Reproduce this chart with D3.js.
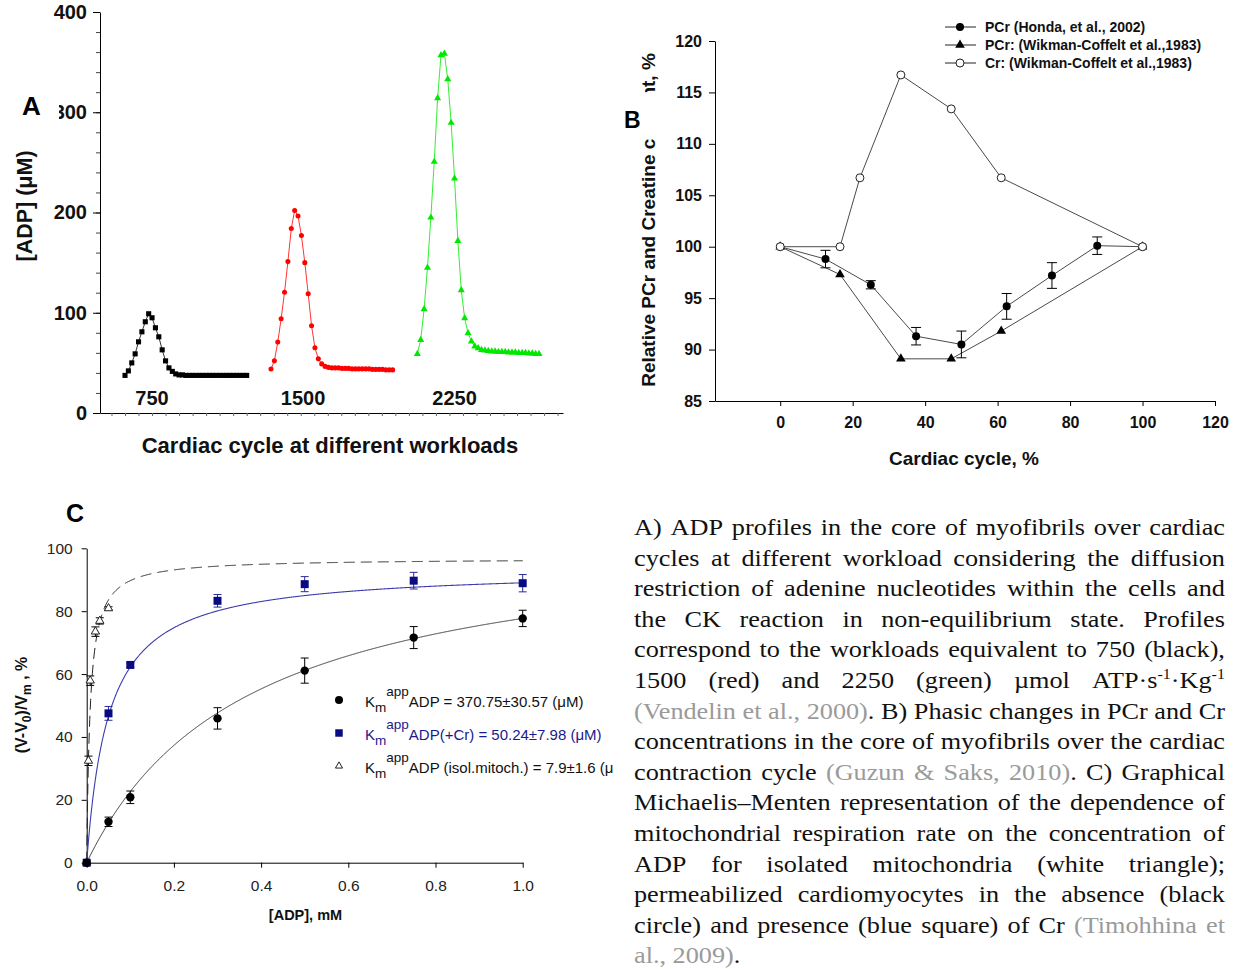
<!DOCTYPE html>
<html>
<head>
<meta charset="utf-8">
<script src="https://cdn.jsdelivr.net/npm/d3@7"></script>
<style>
  body { margin: 0; background: #fff; }
  text { font-family: "Liberation Sans", Arial, sans-serif; }
</style>
</head>
<body>
<svg id="fig" width="1237" height="969"></svg>
<script>
// ---------- panel A: ADP profiles (one sample every ~1/37 of a cycle)
const workloads = ['750', '1500', '2250'];
const adp750 = [37.5, 42, 50, 59, 71, 81, 91, 99, 95, 85, 76, 63, 52, 45, 41.5, 39, 38, 38, 37.5, 37.5,
  37.5, 37.5, 37.5, 37.5, 37.5, 37.5, 37.5, 37.5, 37.5, 37.5, 37.5, 37.5, 37.5, 37.5, 37.5, 37.5, 37.5];
const adp1500 = [43.8, 52, 70.7, 94, 120.5, 151, 184, 202, 196.5, 177, 150, 119, 87, 65, 54, 49, 46.5, 45.5, 45, 45,
  45, 44.5, 44.5, 44.5, 44, 44, 44, 44, 44, 44, 43.5, 43.5, 43.5, 43.5, 43, 43, 43];
const adp2250 = [59, 73, 103.6, 145, 195, 250.6, 314, 357, 358.5, 333, 289.5, 234, 171.6, 122.5, 94.6, 79.7, 71.4, 66.4, 64.7, 63,
  62.4, 62, 61.5, 61.5, 61, 61, 61, 60.5, 60.5, 60.5, 60, 60, 60, 59.5, 59.5, 59, 59];
const cycleStart = [0, 43.2, 86.5];      // where each cycle begins on the time axis
const cycleLabelAt = [8, 52.7, 97.5];
const adpTicks = [0, 100, 200, 300, 400];

// ---------- panel B: PCr / Cr over the cardiac cycle
const hondaX = [0, 12.5, 25, 37.5, 50, 62.5, 75, 87.5, 100];
const hondaY = [100, 98.8, 96.3, 91.3, 90.5, 94.2, 97.2, 100.1, 100];
const hondaErr = [0, 0.85, 0.4, 0.85, 1.3, 1.25, 1.25, 0.85, 0];
const wikPcrX = [0, 16.5, 33.3, 47.2, 61, 100];
const wikPcrY = [100, 97.3, 89.1, 89.1, 91.8, 100];
const wikCrX = [0, 16.5, 22, 33.3, 47.2, 61, 100];
const wikCrY = [100, 100, 106.7, 116.7, 113.4, 106.7, 100];
const legendB = ['PCr (Honda, et al., 2002)', 'PCr: (Wikman-Coffelt et al.,1983)', 'Cr: (Wikman-Coffelt et al.,1983)'];

// ---------- panel C: respiration rate vs [ADP]
const concNoCr = [0, 0.05, 0.1, 0.3, 0.5, 0.75, 1.0];
const rateNoCr = [0, 13, 20.8, 45.9, 61.1, 71.6, 77.7];
const errNoCr = [0, 1.5, 2, 3.4, 4, 3.5, 2.6];
const concCr = [0, 0.05, 0.1, 0.3, 0.5, 0.75, 1.0];
const rateCr = [0, 47.5, 62.9, 83.3, 88.6, 89.7, 88.9];
const errCr = [0, 2.2, 0.7, 2, 2.4, 2.65, 2.75];
const concMito = [0, 0.004, 0.008, 0.02, 0.03, 0.05];
const rateMito = [0, 32.4, 57.9, 73.5, 76.9, 80.9];
const errMito = [0, 1.5, 1.5, 1.5, 1, 0.5];
// Michaelis-Menten fits: Km from the legend (mM), Vmax
const kmNoCr = 0.37075, vmaxNoCr = 106.5;
const kmCr = 0.05024, vmaxCr = 93.5;
const kmMito = 0.0079, vmaxMito = 96.8;
const legendC = ['ADP = 370.75±30.57 (μM)', 'ADP(+Cr) = 50.24±7.98 (μM)', 'ADP (isol.mitoch.) = 7.9±1.6 (μM)'];

const caption = [
  'A) ADP profiles in the core of myofibrils over cardiac',
  'cycles at different workload considering the diffusion',
  'restriction of adenine nucleotides within the cells and',
  'the CK reaction in non-equilibrium state. Profiles',
  'correspond to the workloads equivalent to 750 (black),',
  '1500 (red) and 2250 (green) µmol ATP·s[-1]·Kg[-1]',
  '§(Vendelin et al., 2000)§. B) Phasic changes in PCr and Cr',
  'concentrations in the core of myofibrils over the cardiac',
  'contraction cycle §(Guzun & Saks, 2010)§. C) Graphical',
  'Michaelis–Menten representation of the dependence of',
  'mitochondrial respiration rate on the concentration of',
  'ADP for isolated mitochondria (white triangle);',
  'permeabilized cardiomyocytes in the absence (black',
  'circle) and presence (blue square) of Cr §(Timohhina et',
  'al., 2009)§.'
];

const svg = d3.select('#fig');

function styleAxis(g, size, weight, color) {
  g.selectAll('text').attr('font-size', size).attr('font-weight', weight).attr('fill', color)
    .attr('font-family', '"Liberation Sans", Arial, sans-serif');
  g.selectAll('line,path').attr('stroke', '#000');
}

// =================== Panel A
const xA = d3.scaleLinear().domain([-7.4, 129.6]).range([100, 563]);
const yA = d3.scaleLinear().domain([0, 400]).range([413, 12]);
const gA = svg.append('g');

gA.append('g').attr('transform', 'translate(100,0)')
  .call(d3.axisLeft(yA).tickValues(d3.range(0, 401, 20)).tickSize(4).tickSizeOuter(0).tickFormat(''))
  .call(g => g.select('.domain').remove())
  .selectAll('line').attr('stroke', '#444');
gA.append('g').attr('transform', 'translate(100,0)')
  .call(d3.axisLeft(yA).tickValues(adpTicks).tickSize(7).tickSizeOuter(0).tickPadding(6))
  .call(g => styleAxis(g, 20, 'bold', '#111'));
gA.append('g').attr('transform', `translate(0,${yA(0)})`)
  .call(d3.axisBottom(xA).tickValues(d3.range(-4, 129, 4)).tickSize(3).tickSizeOuter(0).tickFormat(''))
  .call(g => { g.selectAll('line').attr('stroke', '#666'); g.select('.domain').attr('stroke', '#000'); });

const aSeries = [
  { vals: adp750, color: '#000000', sym: d3.symbolSquare, size: 26 },
  { vals: adp1500, color: '#ff0000', sym: d3.symbolCircle, size: 20 },
  { vals: adp2250, color: '#00e800', sym: d3.symbolTriangle, size: 22 }
];
const lineA = d3.line().x(d => xA(d[0])).y(d => yA(d[1]));
aSeries.forEach((s, k) => {
  const pts = s.vals.map((v, i) => [cycleStart[k] + i, v]);
  gA.append('path').attr('d', lineA(pts)).attr('fill', 'none')
    .attr('stroke', s.color).attr('stroke-width', 1).attr('stroke-opacity', 0.8);
  gA.append('g').selectAll('path').data(pts).join('path')
    .attr('transform', d => `translate(${xA(d[0])},${yA(d[1])})`)
    .attr('d', d3.symbol(s.sym, s.size)).attr('fill', s.color);
  gA.append('text').attr('x', xA(cycleLabelAt[k])).attr('y', yA(0) - 8)
    .attr('text-anchor', 'middle').attr('font-size', 20).attr('font-weight', 'bold').attr('fill', '#111')
    .text(workloads[k]);
});

gA.append('text').attr('x', 330).attr('y', 453).attr('text-anchor', 'middle')
  .attr('font-size', 22).attr('font-weight', 'bold').attr('fill', '#111')
  .text('Cardiac cycle at different workloads');
gA.append('text').attr('transform', 'translate(32,206) rotate(-90)').attr('text-anchor', 'middle')
  .attr('font-size', 21.5).attr('font-weight', 'bold').attr('fill', '#111').text('[ADP] (μM)');
gA.append('rect').attr('x', 12).attr('y', 92).attr('width', 47).attr('height', 34).attr('fill', '#fff');
gA.append('text').attr('x', 22).attr('y', 115).attr('font-size', 26).attr('font-weight', 'bold').text('A');

// =================== Panel B
const xB = d3.scaleLinear().domain([-18, 120]).range([715, 1215]);
const yB = d3.scaleLinear().domain([85, 120]).range([401, 41]);
const gB = svg.append('g');

gB.append('g').attr('transform', 'translate(715,0)')
  .call(d3.axisLeft(yB).tickValues(d3.range(85, 121, 5)).tickSize(6).tickSizeOuter(0).tickPadding(7))
  .call(g => styleAxis(g, 16, 'bold', '#111'));
gB.append('g').attr('transform', 'translate(0,401)')
  .call(d3.axisBottom(xB).tickValues(d3.range(0, 121, 20)).tickSize(5).tickSizeOuter(0).tickPadding(11))
  .call(g => styleAxis(g, 16, 'bold', '#111'));

const lineB = d3.line().x(d => xB(d[0])).y(d => yB(d[1]));
const honda = hondaX.map((x, i) => [x, hondaY[i], hondaErr[i]]);
const wikPcr = wikPcrX.map((x, i) => [x, wikPcrY[i]]);
const wikCr = wikCrX.map((x, i) => [x, wikCrY[i]]);
[honda, wikPcr, wikCr].forEach(pts => {
  gB.append('path').attr('d', lineB(pts)).attr('fill', 'none').attr('stroke', '#4a4a4a').attr('stroke-width', 1);
});
const eb = gB.append('g').attr('stroke', '#000').attr('stroke-width', 1);
honda.filter(d => d[2] > 0).forEach(d => {
  const x = xB(d[0]), y0 = yB(d[1] - d[2]), y1 = yB(d[1] + d[2]);
  eb.append('line').attr('x1', x).attr('x2', x).attr('y1', y0).attr('y2', y1);
  eb.append('line').attr('x1', x - 5).attr('x2', x + 5).attr('y1', y0).attr('y2', y0);
  eb.append('line').attr('x1', x - 5).attr('x2', x + 5).attr('y1', y1).attr('y2', y1);
});
gB.append('g').selectAll('path').data(wikPcr).join('path')
  .attr('transform', d => `translate(${xB(d[0])},${yB(d[1])})`)
  .attr('d', d3.symbol(d3.symbolTriangle, 40)).attr('fill', '#000');
gB.append('g').selectAll('circle').data(honda).join('circle')
  .attr('cx', d => xB(d[0])).attr('cy', d => yB(d[1])).attr('r', 4).attr('fill', '#000');
gB.append('g').selectAll('circle').data(wikCr).join('circle')
  .attr('cx', d => xB(d[0])).attr('cy', d => yB(d[1])).attr('r', 4)
  .attr('fill', '#fff').attr('stroke', '#222').attr('stroke-width', 1);

// legend B
const legB = gB.append('g');
legendB.forEach((t, i) => {
  const y = 27 + i * 18;
  legB.append('line').attr('x1', 945).attr('x2', 976).attr('y1', y).attr('y2', y).attr('stroke', '#222');
  if (i === 0) legB.append('circle').attr('cx', 960).attr('cy', y).attr('r', 4).attr('fill', '#000');
  if (i === 1) legB.append('path').attr('transform', `translate(960,${y})`).attr('d', d3.symbol(d3.symbolTriangle, 40)).attr('fill', '#000');
  if (i === 2) legB.append('circle').attr('cx', 960).attr('cy', y).attr('r', 4).attr('fill', '#fff').attr('stroke', '#222');
  legB.append('text').attr('x', 985).attr('y', y + 4.5).attr('font-size', 14).attr('font-weight', 'bold')
    .attr('fill', '#111').text(t);
});

gB.append('text').attr('x', 964).attr('y', 465).attr('text-anchor', 'middle')
  .attr('font-size', 19).attr('font-weight', 'bold').attr('fill', '#111').text('Cardiac cycle, %');
const yLabB = gB.append('text').attr('transform', 'translate(655,220) rotate(-90)').attr('text-anchor', 'middle')
  .attr('font-size', 19).attr('font-weight', 'bold').attr('fill', '#111')
  .text('Relative PCr and Creatine content, %');
// the "B" box hides the middle of that label, from the "o" to partway into the second "n"
{
  const node = yLabB.node(), str = node.textContent, L = node.getComputedTextLength();
  const i0 = str.indexOf('content') + 1, i1 = str.indexOf('content') + 5;
  const p0 = node.getSubStringLength(0, i0);
  const p1 = node.getSubStringLength(0, i1) + 0.55 * node.getSubStringLength(i1, 1);
  const yTop = 220 + L / 2 - p1, yBot = 220 + L / 2 - p0;
  gB.append('rect').attr('x', 620).attr('y', yTop).attr('width', 40).attr('height', yBot - yTop).attr('fill', '#fff');
}
gB.append('text').attr('x', 624).attr('y', 128).attr('font-size', 23).attr('font-weight', 'bold').text('B');

// =================== Panel C
const xC = d3.scaleLinear().domain([0, 1]).range([86.7, 522.7]);
const yC = d3.scaleLinear().domain([0, 100]).range([862.7, 548.3]);
const gC = svg.append('g');

gC.append('g').attr('transform', 'translate(86.7,0)')
  .call(d3.axisLeft(yC).tickValues(d3.range(0, 101, 20)).tickSize(5).tickSizeOuter(0).tickPadding(9))
  .call(g => styleAxis(g, 15.5, 'normal', '#222'));
gC.append('g').attr('transform', 'translate(0,862.7)')
  .call(d3.axisBottom(xC).tickValues(d3.range(0, 1.01, 0.2)).tickFormat(d3.format('.1f'))
    .tickSize(5).tickSizeOuter(0).tickPadding(12))
  .call(g => styleAxis(g, 15.5, 'normal', '#222'));

const mm = (vmax, km) => c => vmax * c / (km + c);
const concGrid = d3.range(0, 1.0001, 0.001);
const lineC = d3.line().x(d => xC(d[0])).y(d => yC(d[1]));
const fitNoCr = mm(vmaxNoCr, kmNoCr), fitCr = mm(vmaxCr, kmCr), fitMito = mm(vmaxMito, kmMito);
gC.append('path').attr('d', lineC(concGrid.map(c => [c, fitMito(c)]))).attr('fill', 'none')
  .attr('stroke', '#222').attr('stroke-width', 1).attr('stroke-dasharray', '11,6');
gC.append('path').attr('d', lineC(concGrid.map(c => [c, fitCr(c)]))).attr('fill', 'none')
  .attr('stroke', '#3c3cb0').attr('stroke-width', 1.1);
gC.append('path').attr('d', lineC(concGrid.map(c => [c, fitNoCr(c)]))).attr('fill', 'none')
  .attr('stroke', '#333').attr('stroke-width', 1);

function errBars(g, xs, ys, es, color) {
  const e = g.append('g').attr('stroke', color).attr('stroke-width', 1);
  xs.forEach((x, i) => {
    if (!es[i]) return;
    const px = xC(x), y0 = yC(ys[i] - es[i]), y1 = yC(ys[i] + es[i]);
    e.append('line').attr('x1', px).attr('x2', px).attr('y1', y0).attr('y2', y1);
    e.append('line').attr('x1', px - 4).attr('x2', px + 4).attr('y1', y0).attr('y2', y0);
    e.append('line').attr('x1', px - 4).attr('x2', px + 4).attr('y1', y1).attr('y2', y1);
  });
}
errBars(gC, concMito, rateMito, errMito, '#000');
errBars(gC, concCr, rateCr, errCr, '#2a2a9a');
errBars(gC, concNoCr, rateNoCr, errNoCr, '#000');

gC.append('g').selectAll('path').data(concMito.map((c, i) => [c, rateMito[i]])).join('path')
  .attr('transform', d => `translate(${xC(d[0])},${yC(d[1])})`)
  .attr('d', d3.symbol(d3.symbolTriangle, 30)).attr('fill', '#fff').attr('stroke', '#222');
gC.append('g').selectAll('path').data(concCr.map((c, i) => [c, rateCr[i]])).join('path')
  .attr('transform', d => `translate(${xC(d[0])},${yC(d[1])})`)
  .attr('d', d3.symbol(d3.symbolSquare, 64)).attr('fill', '#0a0a82');
gC.append('g').selectAll('circle').data(concNoCr.map((c, i) => [c, rateNoCr[i]])).join('circle')
  .attr('cx', d => xC(d[0])).attr('cy', d => yC(d[1])).attr('r', 4.2).attr('fill', '#000');

// legend C (third entry is cut at the panel edge)
svg.append('clipPath').attr('id', 'clipC').append('rect').attr('x', 0).attr('y', 480).attr('width', 614).attr('height', 489);
const legC = gC.append('g').attr('clip-path', 'url(#clipC)');
const legColors = ['#111', '#1a1a8c', '#111'];
legendC.forEach((t, i) => {
  const y = 707 + i * 33;
  if (i === 0) legC.append('circle').attr('cx', 339).attr('cy', y - 7).attr('r', 4).attr('fill', '#000');
  if (i === 1) legC.append('path').attr('transform', `translate(339,${y - 7})`).attr('d', d3.symbol(d3.symbolSquare, 56)).attr('fill', '#0a0a82');
  if (i === 2) legC.append('path').attr('transform', `translate(339,${y - 7})`).attr('d', d3.symbol(d3.symbolTriangle, 22)).attr('fill', '#fff').attr('stroke', '#222');
  const tx = legC.append('text').attr('x', 365).attr('y', y).attr('font-size', 15).attr('fill', legColors[i]);
  tx.append('tspan').text('K');
  tx.append('tspan').attr('dy', 5).attr('font-size', 13.5).text('m');
  tx.append('tspan').attr('dy', -16.5).attr('font-size', 13.5).text('app');
  tx.append('tspan').attr('dy', 11.5).text(t);
});

const yLabC = gC.append('text').attr('transform', 'translate(27,705) rotate(-90)').attr('text-anchor', 'middle')
  .attr('font-size', 16).attr('font-weight', 'bold').attr('fill', '#111');
yLabC.append('tspan').text('(V-V');
yLabC.append('tspan').attr('dy', 4).attr('font-size', 12).text('0');
yLabC.append('tspan').attr('dy', -4).text(')/V');
yLabC.append('tspan').attr('dy', 4).attr('font-size', 12).text('m');
yLabC.append('tspan').attr('dy', -4).text(' , %');
gC.append('text').attr('x', 305.5).attr('y', 920).attr('text-anchor', 'middle')
  .attr('font-size', 14.5).attr('font-weight', 'bold').attr('fill', '#111').text('[ADP], mM');
gC.append('text').attr('x', 66).attr('y', 522).attr('font-size', 25).attr('font-weight', 'bold').text('C');

// =================== caption, justified between 634 and 1225
const capLeft = 634, capRight = 1225, capTop = 535, capStep = 30.6, capSize = 23;
const gT = svg.append('g');
const state = { gray: false };
const capLines = caption.map((line, li) => {
  const lg = gT.append('g');
  const words = line.split(' ').map(w => {
    const segs = []; let buf = '', sup = false;
    const flush = () => { if (buf) segs.push({ t: buf, gray: state.gray, sup }); buf = ''; };
    for (const ch of w) {
      if (ch === '§') { flush(); state.gray = !state.gray; }
      else if (ch === '[') { flush(); sup = true; }
      else if (ch === ']') { flush(); sup = false; }
      else buf += ch;
    }
    flush();
    return segs;
  });
  const nodes = words.map(segs => {
    const t = lg.append('text').attr('y', 0).attr('font-size', capSize)
      .style('font-family', '"Liberation Serif", "Times New Roman", serif');
    let prevSup = false;
    segs.forEach(s => {
      const sp = t.append('tspan').text(s.t).attr('fill', s.gray ? '#9a9a9a' : '#111');
      if (s.sup) { sp.attr('font-size', 14).attr('dy', prevSup ? 0 : -9); }
      else if (prevSup) sp.attr('dy', 9);
      prevSup = s.sup;
    });
    return t;
  });
  return { lg, nodes, widths: nodes.map(t => t.node().getComputedTextLength()), y: capTop + li * capStep };
});
// the source text is set slightly wider than Times: stretch so the tightest line just fits
const spaceW = capSize * 0.25;
const natural = capLines.slice(0, -1).map(l => d3.sum(l.widths) + spaceW * (l.nodes.length - 1));
const sx = (capRight - capLeft) / d3.max(natural);
const localW = (capRight - capLeft) / sx;
capLines.forEach((l, li) => {
  l.lg.attr('transform', `translate(${capLeft},${l.y}) scale(${sx},1)`);
  const last = li === capLines.length - 1;
  const gap = last ? spaceW : (localW - d3.sum(l.widths)) / (l.nodes.length - 1);
  let x = 0;
  l.nodes.forEach((t, i) => { t.attr('x', x); x += l.widths[i] + gap; });
});
</script>
</body>
</html>
